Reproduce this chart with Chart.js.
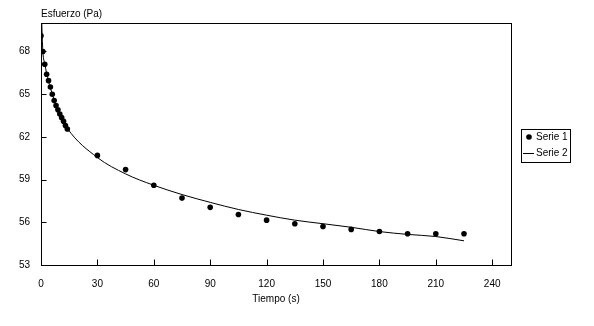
<!DOCTYPE html>
<html>
<head>
<meta charset="utf-8">
<script src="https://cdn.jsdelivr.net/npm/chart.js@4"></script>
<style>
  html, body { margin: 0; padding: 0; background: #fff; }
  #wrap { width: 594px; height: 326px; }
</style>
</head>
<body>
<div id="wrap"><canvas id="myChart" width="594" height="326"></canvas></div>
<script>
// Datos del ensayo: tiempo (s) y esfuerzo (Pa)
const tiempo = [0, 1, 2, 3, 4, 5, 6, 7, 8, 9, 10, 11, 12, 13, 14,
  30, 45, 60, 75, 90, 105, 120, 135, 150, 165, 180, 195, 210, 225];
const serie1 = [69.1, 68.0, 67.1, 66.4, 65.95, 65.5, 65.0, 64.55, 64.2, 63.9, 63.6, 63.35, 63.1, 62.8, 62.55,
  60.7, 59.7, 58.6, 57.7, 57.05, 56.55, 56.15, 55.9, 55.7, 55.5, 55.35, 55.2, 55.2, 55.2];
const serie2 = [71.5, 68.0, 67.15, 66.45, 65.9, 65.45, 65.0, 64.6, 64.25, 63.9, 63.6, 63.35, 63.1, 62.85, 62.6,
  60.55, 59.4, 58.6, 57.95, 57.4, 56.9, 56.5, 56.15, 55.9, 55.65, 55.35, 55.15, 55.0, 54.7];
const ticksX = [0, 30, 60, 90, 120, 150, 180, 210, 240];
const ticksY = [53, 56, 59, 62, 65, 68];
const nombres = ['Serie 1', 'Serie 2'];

document.addEventListener('DOMContentLoaded', function() {
  const ctx = document.getElementById('myChart');
  const fuente = { family: '"Liberation Sans", Arial, sans-serif', size: 10 };

  // marco, marcas hacia dentro, titulo del eje Y y leyenda con borde
  const marco = {
    id: 'marco',
    afterDraw(chart) {
      const c = chart.ctx;
      const a = chart.chartArea;
      const sx = chart.scales.x;
      const sy = chart.scales.y;
      c.save();
      c.strokeStyle = '#000';
      c.lineWidth = 1;
      c.strokeRect(a.left + 0.5, a.top + 0.5, a.right - a.left, a.bottom - a.top);
      c.beginPath();
      ticksX.forEach(v => {
        const px = Math.round(sx.getPixelForValue(v)) + 0.5;
        c.moveTo(px, a.bottom + 0.5);
        c.lineTo(px, a.bottom - 5.5);
      });
      ticksY.forEach(v => {
        const py = Math.round(sy.getPixelForValue(v)) + 0.5;
        c.moveTo(a.left + 0.5, py);
        c.lineTo(a.left + 5.5, py);
      });
      c.stroke();

      c.fillStyle = '#000';
      c.font = '10px ' + fuente.family;
      c.textBaseline = 'middle';
      c.textAlign = 'left';
      c.fillText('Esfuerzo (Pa)', a.left, a.top - 9);

      // leyenda
      const lx = a.right + 10;
      const ly = 129;
      c.strokeRect(lx + 0.5, ly + 0.5, 49, 33);
      c.beginPath();
      c.arc(lx + 8, ly + 8, 2.8, 0, Math.PI * 2);
      c.fill();
      c.fillText(nombres[0], lx + 15, ly + 8);
      c.beginPath();
      c.moveTo(lx + 2, ly + 24.5);
      c.lineTo(lx + 13, ly + 24.5);
      c.stroke();
      c.fillText(nombres[1], lx + 15, ly + 24);
      c.restore();
    }
  };

  new Chart(ctx, {
    type: 'scatter',
    data: {
      datasets: [{
        label: nombres[0],
        data: tiempo.map((t, i) => ({ x: t, y: serie1[i] })),
        backgroundColor: '#000',
        borderWidth: 0,
        pointRadius: 2.8,
        pointHoverRadius: 2.8
      }, {
        label: nombres[1],
        type: 'line',
        data: tiempo.map((t, i) => ({ x: t, y: serie2[i] })),
        borderColor: '#000',
        borderWidth: 1,
        pointRadius: 0,
        fill: false,
        cubicInterpolationMode: 'monotone'
      }]
    },
    options: {
      responsive: false,
      animation: false,
      layout: { padding: { top: 23, right: 83, left: 0, bottom: 17 } },
      plugins: {
        legend: { display: false },
        tooltip: { enabled: false }
      },
      scales: {
        x: {
          type: 'linear',
          min: 0,
          max: 250,
          afterBuildTicks: s => { s.ticks = ticksX.map(v => ({ value: v })); },
          afterFit: s => { s.height = 44; },
          grid: { display: false, drawTicks: false },
          border: { display: false },
          ticks: { color: '#000', font: fuente, padding: 13, maxRotation: 0 },
          title: { display: true, text: 'Tiempo (s)', color: '#000', font: fuente, padding: { top: 6 } }
        },
        y: {
          min: 53,
          max: 70,
          afterBuildTicks: s => { s.ticks = ticksY.map(v => ({ value: v })); },
          afterFit: s => { s.width = 41; },
          grid: { display: false, drawTicks: false },
          border: { display: false },
          ticks: { color: '#000', font: fuente, padding: 11 }
        }
      }
    },
    plugins: [marco]
  });
});
</script>
</body>
</html>
